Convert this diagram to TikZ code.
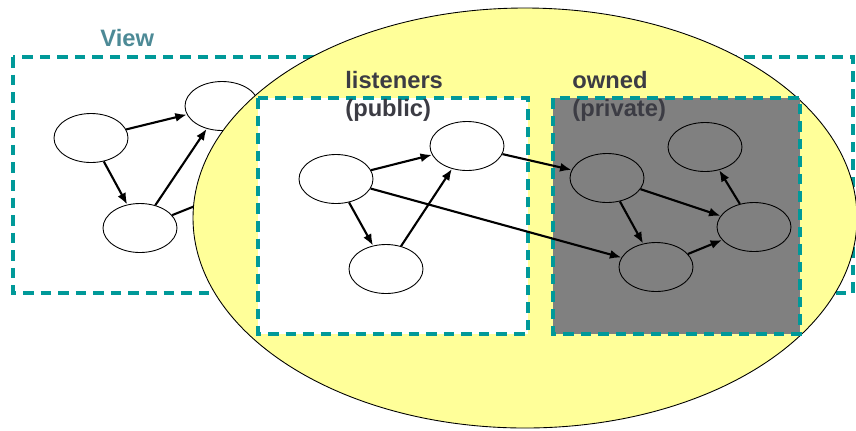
\documentclass[tikz,border=0pt]{standalone}
\usepackage{fontspec}
\setmainfont{Liberation Sans}
\usepackage{xcolor}
\usepackage{tikz}
\usetikzlibrary{arrows.meta,shapes.geometric}

\definecolor{boxteal}{RGB}{0,153,153}
\definecolor{blobyellow}{RGB}{255,255,153}
\definecolor{ownedgray}{RGB}{128,128,128}
\definecolor{viewtext}{RGB}{77,138,150}
\definecolor{lbltext}{RGB}{60,60,68}

\tikzset{
  obj/.style={draw, ellipse, line width=.5pt, inner sep=0pt, minimum width=14.8mm, minimum height=9.8mm},
  ref/.style={line width=1.2pt, -{Latex[length=2.3mm,width=1.8mm]}},
  region/.style={draw=boxteal, line width=2.2pt, dash pattern=on 6pt off 4pt},
  lbl/.style={font=\fontsize{13.5}{16}\selectfont\bfseries, inner sep=0pt, align=left, anchor=north west}
}

\begin{document}
\begin{tikzpicture}[x=0.2mm, y=-0.2mm]
        \useasboundingbox (0,0) rectangle (856,430);
        % view side
        \draw[region] (13,57) rectangle (560,293);
        \draw[region] (650,57) rectangle (853,293);
        \node[lbl, text=viewtext] (viewlbl) at (100,29) {View};
        \node[obj] (vA) at (91,138) {};
        \node[obj] (vB) at (222,106) {};
        \node[obj] (vC) at (140,228) {};
        \coordinate (vOut) at (240,188);
        \draw[ref] (vA) -- (vB);
        \draw[ref] (vA) -- (vC);
        \draw[ref] (vC) -- (vB);
        \draw[line width=1.2pt] (vC) -- (vOut);
        % the blob
        \draw[fill=blobyellow, line width=.5pt] (525,218) ellipse [x radius=332, y radius=210];
        % listeners and owned
        \draw[region, fill=white] (258,98) rectangle (528,334);
        \draw[region, fill=ownedgray] (553,98) rectangle (800,334);
        \node[lbl, text=lbltext] (lstlbl) at (345,71) {listeners\\(public)};
        \node[lbl, text=lbltext] (ownlbl) at (572,71) {owned\\(private)};
        \node[obj] (lA) at (336,179) {};
        \node[obj] (lB) at (467,146) {};
        \node[obj] (lC) at (386,269) {};
        \node[obj] (oA) at (607,178) {};
        \node[obj] (oB) at (656,267) {};
        \node[obj] (oC) at (754,227) {};
        \node[obj] (oD) at (705,147) {};
        \draw[ref] (lA) -- (lB);
        \draw[ref] (lA) -- (lC);
        \draw[ref] (lC) -- (lB);
        \draw[ref] (lB) -- (oA);
        \draw[ref] (lA) -- (oB);
        \draw[ref] (oA) -- (oC);
        \draw[ref] (oA) -- (oB);
        \draw[ref] (oB) -- (oC);
        \draw[ref] (oC) -- (oD);
\end{tikzpicture}
\end{document}
